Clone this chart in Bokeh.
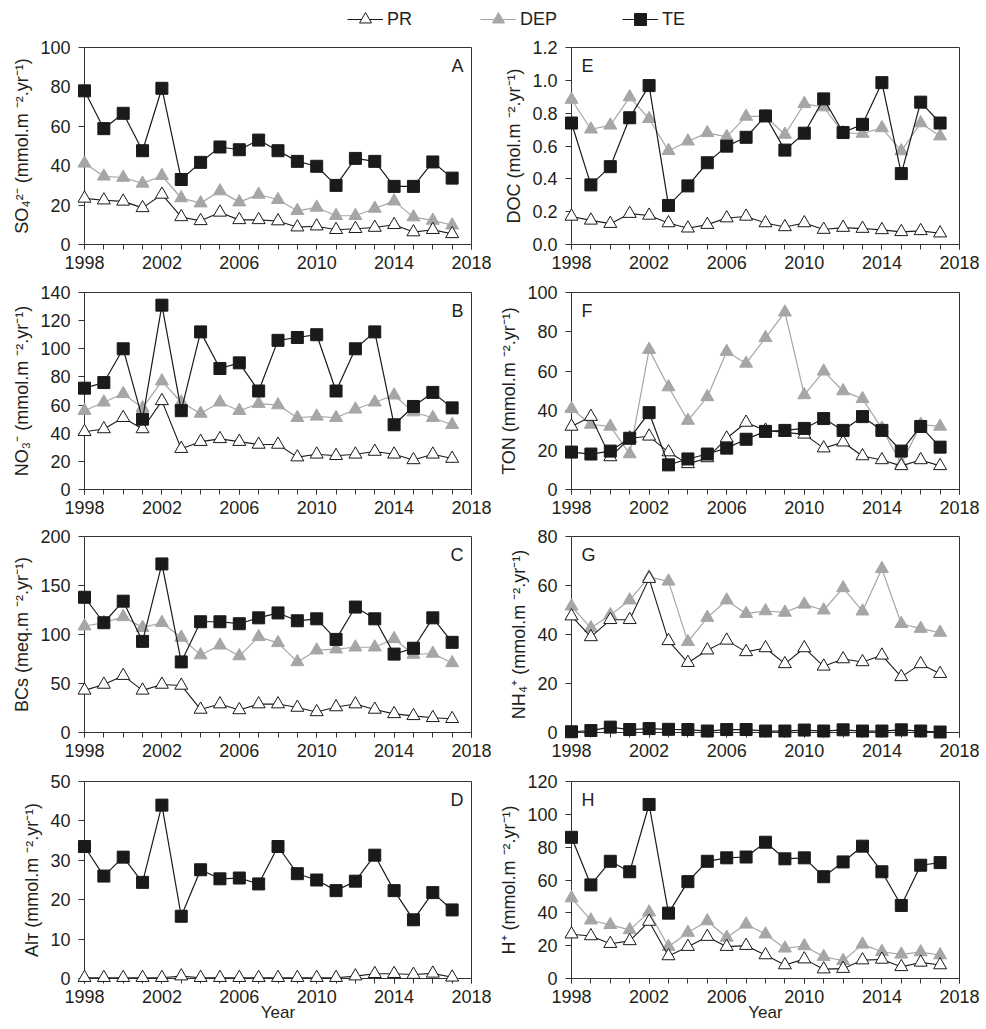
from bokeh.plotting import figure
from bokeh.layouts import column, row
from bokeh.models import Range1d, FixedTicker, Label, Legend, LegendItem, NumeralTickFormatter
from bokeh.embed import file_html
from bokeh.resources import INLINE

years = list(range(1998, 2018))

# A: SO4
so4_pr = [23.4, 22.5, 21.9, 18.6, 25.4, 14.0, 12.0, 16.3, 12.5, 12.5, 11.9, 8.8, 9.3, 7.5, 8.0, 8.6, 10.0, 6.3, 7.5, 5.4]
so4_dep = [41.2, 34.6, 34.0, 31.0, 34.9, 23.6, 21.0, 27.1, 21.5, 25.4, 22.7, 17.1, 18.8, 14.6, 14.6, 18.3, 22.0, 13.9, 12.2, 9.8]
so4_te = [78, 58.8, 66.6, 47.6, 79.3, 33, 41.7, 49.5, 48.1, 53, 47.6, 42.2, 39.7, 30, 43.7, 42.2, 29.5, 29.5, 41.9, 33.7]
# B: NO3
no3_pr = [41, 43, 51, 43, 63, 29, 34, 36, 34, 32, 32, 23, 25, 24, 25, 27, 25, 21, 25, 22]
no3_dep = [56, 62, 68, 58, 77, 62, 54, 62, 56, 61, 60, 51, 52, 51, 57, 62, 67, 55, 51, 46]
no3_te = [72, 76, 100, 50, 131, 56, 112, 86, 90, 70, 106, 108, 110, 70, 100, 112, 46, 59, 69, 58]
# C: BCs
bc_pr = [43, 49, 58, 43, 49, 48, 23.5, 29, 23, 29, 29, 25.5, 21, 26, 29, 23.5, 19, 17, 15, 14]
bc_dep = [108.5, 112, 118, 107, 112, 97, 79, 89, 78, 97.6, 91.5, 72, 84, 85, 87, 87, 95.6, 79.6, 80.6, 71]
bc_te = [138, 112, 134, 93, 172, 72, 113, 113, 111, 117, 122, 114, 116, 95, 128, 116, 80, 86, 117, 92]
# D: AlT
al_pr = [0.2, 0.2, 0.2, 0.2, 0.2, 0.6, 0.2, 0.2, 0.2, 0.2, 0.2, 0.2, 0.2, 0.2, 0.6, 1.2, 1.2, 1.0, 1.3, 0.3]
al_te = [33.5, 26, 30.8, 24.4, 44, 15.8, 27.6, 25.3, 25.5, 24, 33.5, 26.6, 25, 22.3, 24.7, 31.3, 22.3, 14.9, 21.8, 17.4]
# E: DOC
doc_pr = [0.171, 0.147, 0.127, 0.188, 0.177, 0.131, 0.099, 0.121, 0.161, 0.171, 0.131, 0.107, 0.131, 0.091, 0.103, 0.097, 0.089, 0.077, 0.083, 0.069]
doc_dep = [0.883, 0.702, 0.726, 0.898, 0.766, 0.571, 0.629, 0.68, 0.656, 0.78, 0.78, 0.67, 0.857, 0.837, 0.68, 0.676, 0.71, 0.569, 0.74, 0.66]
doc_te = [0.74, 0.363, 0.474, 0.772, 0.968, 0.238, 0.357, 0.498, 0.599, 0.653, 0.783, 0.575, 0.678, 0.887, 0.682, 0.732, 0.986, 0.432, 0.867, 0.74]
# F: TON
ton_pr = [32, 37, 16.5, 26, 27, 19, 13, 16, 26, 34, 30, 29, 28, 21, 24, 17, 15, 12, 15, 12]
ton_dep = [41, 33, 32, 18, 71, 52, 35, 47, 70, 64, 77, 90, 48, 60, 50, 46, 31, 13, 33, 32]
ton_te = [19, 18, 19.5, 26, 39, 12.5, 15.5, 18, 21, 25.5, 29.5, 30, 31, 36, 30, 37, 30, 19.5, 32, 21.5]
# G: NH4
nh4_pr = [47.5, 39, 46, 46, 62.8, 37.4, 28.5, 33.6, 37.6, 32.9, 34.5, 28, 34.5, 27, 30, 28.8, 31.5, 22.7, 28, 24]
nh4_dep = [51.5, 42.7, 48, 54, 63.5, 61.7, 37, 46.9, 54, 48.5, 49.6, 49, 52.3, 49.9, 59, 49.5, 66.8, 44.4, 42.4, 40.8]
nh4_te = [0.3, 0.8, 2.2, 1.2, 1.6, 1.3, 1.2, 0.6, 1.2, 1.2, 0.6, 0.6, 1.0, 0.6, 1.1, 0.6, 0.6, 1.1, 0.6, 0.2]
# H: H+
h_pr = [27, 25.9, 21.2, 22.9, 34.7, 13.7, 19.4, 25.5, 19.4, 20, 14.3, 8.2, 11.8, 5.7, 6, 11.2, 11.6, 7.1, 9.8, 8.2]
h_dep = [49, 35.5, 32.7, 29.6, 40.4, 19.4, 28, 35, 25, 33, 27, 18.4, 19.8, 13.3, 10.8, 20.8, 16.3, 14.7, 16.1, 14.3]
h_te = [86, 57, 71.4, 65, 106, 39.8, 59, 71.4, 73.5, 74, 83, 72.9, 73.5, 62, 71, 80.6, 65, 44.5, 69, 70.6]

x_major = [1998, 2002, 2006, 2010, 2014, 2018]
x_minor = list(range(1998, 2019))

FONT = "Liberation Sans"
TXT = "#231f20"
GRAY = "#a6a6a6"
BLACK = "#1a1a1a"
AXC = "#333333"

def style_series(p, xs, ys, kind):
    if kind == "PR":
        p.line(xs, ys, line_color=BLACK, line_width=1.1, level="overlay")
        p.scatter(xs, ys, marker="triangle", size=13, fill_color="white", line_color=BLACK, line_width=1, level="overlay")
    elif kind == "DEP":
        p.line(xs, ys, line_color=GRAY, line_width=1.2, level="overlay")
        p.scatter(xs, ys, marker="triangle", size=13, fill_color=GRAY, line_color=GRAY, line_width=1, level="overlay")
    else:
        p.line(xs, ys, line_color=BLACK, line_width=1.2, level="overlay")
        p.scatter(xs, ys, marker="square", size=12, fill_color=BLACK, line_color=BLACK, line_width=1, level="overlay")

def panel(letter, ylabel, y_end, y_ticks, series, col, b_top, frame_h, b_bottom, xlabel=None, yfmt=None):
    if col == 0:
        bl, fw, br = 84, 387, 20
    else:
        bl, fw, br = 80, 388, 26
    p = figure(width=bl + fw + br, height=b_top + frame_h + b_bottom,
               min_border_left=bl, min_border_right=br, min_border_top=b_top, min_border_bottom=b_bottom,
               x_range=Range1d(1998, 2018), y_range=Range1d(0, y_end),
               output_backend="svg", toolbar_location=None, tools="")
    p.xgrid.visible = False
    p.ygrid.visible = False
    p.outline_line_color = AXC
    p.outline_line_width = 1
    p.outline_line_alpha = 1
    p.background_fill_color = "white"
    p.border_fill_color = "white"

    xa = p.xaxis[0]
    xa.ticker = FixedTicker(ticks=x_major, minor_ticks=x_minor)
    xa.major_tick_in = 0
    xa.major_tick_out = 5
    xa.minor_tick_in = 0
    xa.minor_tick_out = 5
    xa.major_label_standoff = 6
    xa.major_label_text_font = FONT
    xa.major_label_text_font_size = "18px"
    xa.major_label_text_color = TXT
    xa.axis_line_color = AXC
    xa.major_tick_line_color = AXC
    xa.minor_tick_line_color = AXC
    if xlabel:
        xa.axis_label = xlabel
        xa.axis_label_text_font = FONT
        xa.axis_label_text_font_size = "17px"
        xa.axis_label_text_font_style = "normal"
        xa.axis_label_text_color = TXT
        xa.axis_label_standoff = -3

    ya = p.yaxis[0]
    ya.ticker = FixedTicker(ticks=y_ticks)
    ya.major_tick_in = 0
    ya.major_tick_out = 6
    ya.minor_tick_line_color = None
    ya.major_label_standoff = 8
    ya.major_label_text_font = FONT
    ya.major_label_text_font_size = "18px"
    ya.major_label_text_color = TXT
    ya.axis_line_color = AXC
    ya.major_tick_line_color = AXC
    ya.axis_label = ylabel
    ya.axis_label_text_font = FONT
    ya.axis_label_text_font_size = "18px"
    ya.axis_label_text_font_style = "normal"
    ya.axis_label_text_color = TXT
    ya.axis_label_standoff = 5
    if yfmt:
        ya.formatter = NumeralTickFormatter(format=yfmt)

    for kind, ys in series:
        style_series(p, years, ys, kind)

    if col == 0:
        lab = Label(x=fw - 8, y=frame_h - 8, x_units="screen", y_units="screen", text=letter,
                    text_align="right", text_baseline="top", text_font=FONT, text_font_size="18px", text_color=TXT)
    else:
        lab = Label(x=10, y=frame_h - 8, x_units="screen", y_units="screen", text=letter,
                    text_align="left", text_baseline="top", text_font=FONT, text_font_size="18px", text_color=TXT)
    p.add_layout(lab)
    return p

unit_mmol = " (mmol.m \u207b\u00b2.yr\u207b\u00b9)"

pA = panel("A", "SO\u2084\u00b2\u207b" + unit_mmol, 100, [0, 20, 40, 60, 80, 100],
           [("DEP", so4_dep), ("PR", so4_pr), ("TE", so4_te)], 0, 11, 197, 38)
pE = panel("E", "DOC (mol.m \u207b\u00b2.yr\u207b\u00b9)", 1.2, [0, 0.2, 0.4, 0.6, 0.8, 1.0, 1.2],
           [("DEP", doc_dep), ("PR", doc_pr), ("TE", doc_te)], 1, 11, 197, 38, yfmt="0.0")
pB = panel("B", "NO\u2083\u207b" + unit_mmol, 140, [0, 20, 40, 60, 80, 100, 120, 140],
           [("DEP", no3_dep), ("PR", no3_pr), ("TE", no3_te)], 0, 10, 197, 37)
pF = panel("F", "TON" + unit_mmol, 100, [0, 20, 40, 60, 80, 100],
           [("DEP", ton_dep), ("PR", ton_pr), ("TE", ton_te)], 1, 10, 197, 37)
pC = panel("C", "BCs (meq.m \u207b\u00b2.yr\u207b\u00b9)", 200, [0, 50, 100, 150, 200],
           [("DEP", bc_dep), ("PR", bc_pr), ("TE", bc_te)], 0, 10, 196, 39)
pG = panel("G", "NH\u2084\u207a" + unit_mmol, 80, [0, 20, 40, 60, 80],
           [("DEP", nh4_dep), ("PR", nh4_pr), ("TE", nh4_te)], 1, 10, 196, 39)
pD = panel("D", "Al\u1d1b" + unit_mmol, 50, [0, 10, 20, 30, 40, 50],
           [("PR", al_pr), ("TE", al_te)], 0, 10, 197, 49, xlabel="Year")
pH = panel("H", "H\u207a" + unit_mmol, 120, [0, 20, 40, 60, 80, 100, 120],
           [("DEP", h_dep), ("PR", h_pr), ("TE", h_te)], 1, 10, 197, 49, xlabel="Year")

# legend strip
lg = figure(width=985, height=36, min_border=0, x_axis_type=None, y_axis_type=None,
            x_range=Range1d(0, 1), y_range=Range1d(0, 1),
            output_backend="svg", toolbar_location=None, tools="")
lg.xgrid.visible = False
lg.ygrid.visible = False
lg.outline_line_color = None
lg.border_fill_color = "white"
lg.background_fill_color = "white"

off_x = [-3, -2]
off_y = [-3, -3]
r_pr_l = lg.line(off_x, off_y, line_color=BLACK, line_width=1.1)
r_pr_s = lg.scatter(off_x, off_y, marker="triangle", size=13, fill_color="white", line_color=BLACK)
r_dep_l = lg.line(off_x, off_y, line_color=GRAY, line_width=1.2)
r_dep_s = lg.scatter(off_x, off_y, marker="triangle", size=13, fill_color=GRAY, line_color=GRAY)
r_te_l = lg.line(off_x, off_y, line_color=BLACK, line_width=1.2)
r_te_s = lg.scatter(off_x, off_y, marker="square", size=12, fill_color=BLACK, line_color=BLACK)

for label, rends, xloc in [("PR", [r_pr_l, r_pr_s], 347), ("DEP", [r_dep_l, r_dep_s], 480), ("TE", [r_te_l, r_te_s], 622)]:
    leg = Legend(items=[LegendItem(label=label, renderers=rends, index=0)], location=(xloc, 2),
                 orientation="horizontal", padding=0, margin=0, spacing=0,
                 glyph_width=36, glyph_height=30, label_height=30, label_standoff=4,
                 label_text_font=FONT, label_text_font_size="18px", label_text_color=TXT,
                 border_line_color=None, background_fill_alpha=0)
    lg.add_layout(leg)

layout = column(lg, row(pA, pE), row(pB, pF), row(pC, pG), row(pD, pH))

open("out.html", "w").write(file_html(layout, INLINE))
